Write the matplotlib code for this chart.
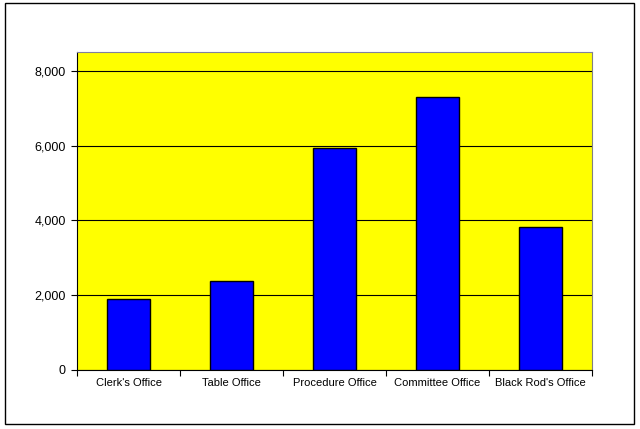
import matplotlib.pyplot as plt
import matplotlib.patches as patches
import numpy as np

# Data
offices = ["Clerk's Office", "Table Office", "Procedure Office",
           "Committee Office", "Black Rod's Office"]
counts = [1900, 2380, 5940, 7300, 3830]
y_ticks = [0, 2000, 4000, 6000, 8000]

plt.rcParams['font.family'] = ['Liberation Sans', 'DejaVu Sans']

fig = plt.figure(figsize=(6.4, 4.29), dpi=100)
ax = fig.add_axes([77/640, 59/429, 515/640, 318/429])

# outer chart border
fig.patches.append(patches.Rectangle((5/640, 5/429), 629/640, 421/429,
                                     transform=fig.transFigure, fill=False,
                                     edgecolor='black', linewidth=1.0))

x = np.arange(len(offices))
ax.set_facecolor('#ffff00')
ax.bar(x, counts, width=0.41, color='#0000ff', edgecolor='black',
       linewidth=1.0, zorder=3)

ax.set_ylim(0, 8500)
ax.set_xlim(-0.5, len(offices) - 0.5)
ax.set_yticks(y_ticks)
ax.set_yticklabels(['{:,}'.format(v) for v in y_ticks], fontsize=9)
ax.yaxis.grid(True, color='black', linewidth=0.8, zorder=1)
ax.set_axisbelow(True)

# categories between tick marks
ax.set_xticks(np.arange(len(offices) + 1) - 0.5)
ax.set_xticklabels([])
ax.set_xticks(x, minor=True)
ax.set_xticklabels(offices, minor=True, fontsize=8)
ax.tick_params(axis='x', which='minor', length=0, pad=6)
ax.tick_params(axis='x', which='major', length=4, direction='out')
ax.tick_params(axis='y', length=4, direction='out', pad=4)

ax.spines['left'].set_color('black')
ax.spines['bottom'].set_color('black')
ax.spines['top'].set_color('#8080a0')
ax.spines['right'].set_color('#808080')

fig.savefig('out.png', dpi=100, facecolor='white')
